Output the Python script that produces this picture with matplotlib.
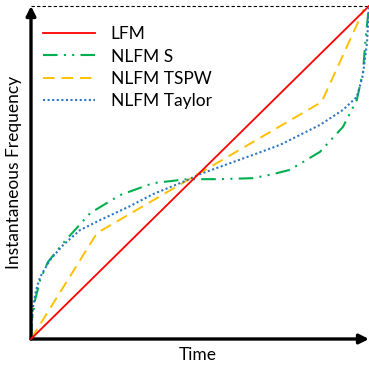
import matplotlib
matplotlib.use("Agg")
import matplotlib.pyplot as plt

plt.rcParams['font.family'] = ['Lato', 'DejaVu Sans']

# Normalized time (%) and instantaneous frequency (%)
lfm_t = [0, 100]
lfm_f = [0, 100]

s_t = [0, 0.3, 1.2, 2.7, 5.0, 9.5, 17.5, 26.3, 36.1, 46.2, 55.9, 65.7, 71.6, 76.6,
       85.5, 92.3, 96.4, 98.2, 99.1, 100]
s_f = [0, 5.7, 11.7, 17.7, 23.1, 28.8, 37.8, 43.2, 46.8, 48.0, 48.0, 48.3, 49.5, 50.8,
       56.2, 63.7, 71.8, 80.2, 91.3, 100]

tspw_t = [0, 19.5, 86.0, 98.5]
tspw_f = [0, 31.8, 71.2, 99.0]

taylor_t = [0, 0.3, 0.6, 1.5, 2.7, 5.6, 9.5, 14.5, 20.4, 29.3, 36.1, 46.2, 50.0, 55.9,
            65.7, 73.7, 85.5, 92.3, 96.4, 98.2, 99.4, 100]
taylor_f = [0, 5.7, 9.6, 14.7, 18.6, 23.7, 28.2, 32.7, 35.7, 39.9, 43.5, 47.7, 49.5, 51.7,
            55.3, 58.3, 64.3, 68.8, 72.7, 79.3, 88.9, 99.4]

labels = ['LFM', 'NLFM S', 'NLFM TSPW', 'NLFM Taylor']

W, H = 369, 370
fig = plt.figure(figsize=(W / 100, H / 100), dpi=100)
ax = fig.add_axes([31 / W, (H - 339) / H, 338 / W, 333 / H])
ax.set_xlim(0, 100)
ax.set_ylim(0, 100)
for s in ax.spines.values():
    s.set_visible(False)
ax.set_xticks([])
ax.set_yticks([])

ax.plot(lfm_t, lfm_f, color='#FF0000', lw=1.3, label=labels[0], clip_on=False, zorder=5)
ax.plot(s_t, s_f, color='#00B050', lw=1.5, dashes=(7, 3, 1, 3, 1, 3), label=labels[1], clip_on=False)
ax.plot(tspw_t, tspw_f, color='#FFC000', lw=1.4, dashes=(6, 3.5), label=labels[2], clip_on=False)
ax.plot(taylor_t, taylor_f, color='#2E75C6', lw=1.5, dashes=(1, 1.2), label=labels[3], clip_on=False)

# top dashed border
ax.plot([0, 100], [100, 100], color='black', lw=0.8, dashes=(3, 2), clip_on=False)

# axis arrows
arrow = dict(arrowstyle='-|>', lw=2.4, color='black', mutation_scale=14, shrinkA=0, shrinkB=0)
ax.annotate('', xy=(0, 100), xytext=(0, 0), arrowprops=arrow, annotation_clip=False)
ax.annotate('', xy=(100, 0), xytext=(0, 0), arrowprops=arrow, annotation_clip=False)

fig.text(198 / W, 1 - 355 / H, 'Time', ha='center', va='center', fontsize=12.5)
fig.text(14 / W, 1 - 172 / H, 'Instantaneous Frequency', ha='center', va='center',
         rotation=90, fontsize=12.5)

leg = ax.legend(loc='upper left', bbox_to_anchor=(0.0, 0.975), frameon=False,
                fontsize=12.5, handlelength=3.0, handletextpad=0.9, labelspacing=0.35,
                borderaxespad=0.3)

fig.savefig('out.png', dpi=100)
